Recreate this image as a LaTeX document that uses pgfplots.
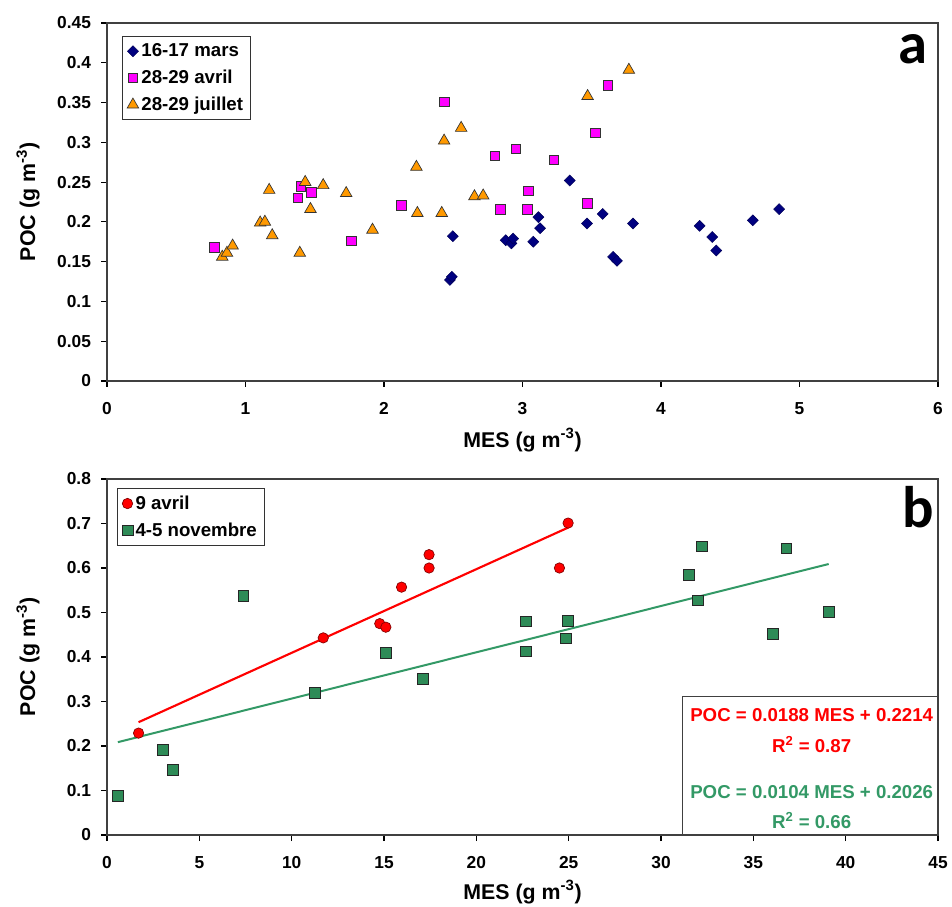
\documentclass[border=0pt]{standalone}
\usepackage{pgfplots}
\pgfplotsset{compat=1.18}
\usepackage{fontspec}
\setmainfont{Liberation Sans}
\newfontfamily\calibri{Carlito}
\definecolor{navyc}{HTML}{000080}
\definecolor{magc}{HTML}{FF00FF}
\definecolor{orgc}{HTML}{FF9900}
\definecolor{redc}{HTML}{FF0000}
\definecolor{grnc}{HTML}{2E8B57}
\definecolor{grnt}{HTML}{339966}
\pgfplotsset{
 common/.style={
  scale only axis, width=623.25pt,
  axis line style={black!75, line width=0.9pt},
  tick align=outside, xtick pos=bottom, ytick pos=left,
  major tick length=4.5pt, tick style={black, line width=0.8pt},
  tick label style={font=\fontsize{13}{15}\selectfont\bfseries},
  xticklabel style={yshift=-8pt},
  /pgf/number format/assume math mode=true,
  label style={font=\fontsize{16}{18}\selectfont\bfseries},
  every axis y label/.append style={at={(axis description cs:-0.095,0.5)}, anchor=center},
  legend style={font=\fontsize{14}{17}\selectfont\bfseries, draw=black!80, line width=0.8pt, row sep=4.5pt, inner sep=3.5pt},
  legend cell align=left,
  scaled ticks=false,
  yticklabel style={xshift=-4pt, /pgf/number format/fixed, /pgf/number format/precision=2},
  clip=false,
 }
}
\begin{document}
\begin{tikzpicture}
\useasboundingbox (0,0) rectangle (714pt,679.5pt);
% ---------------- panel a
\begin{axis}[common,
  at={(80.25pt,393.75pt)}, anchor=south west, height=268.5pt,
  xmin=0, xmax=6, ymin=0, ymax=0.45,
  xtick={0,1,2,3,4,5,6},
  ytick={0,0.05,0.1,0.15,0.2,0.25,0.3,0.35,0.4,0.45},
  xlabel={MES (g m\textsuperscript{-3})},
  ylabel={POC (g m\textsuperscript{-3})},
  xlabel style={at={(axis description cs:0.5,-0.165)}, anchor=center},
  legend style={at={(0.018,0.964)}, anchor=north west},
]
\addplot[only marks, mark=square*, mark size=2.9pt, mark options={rotate=45, fill=navyc, draw=navyc!70!black, line width=0.4pt}] table {
2.497 0.182
2.476 0.127
2.490 0.131
2.879 0.177
2.920 0.173
2.932 0.179
3.078 0.175
3.115 0.206
3.127 0.192
3.341 0.252
3.466 0.198
3.579 0.210
3.654 0.156
3.682 0.151
3.798 0.198
4.279 0.195
4.370 0.181
4.399 0.164
4.663 0.202
4.853 0.216
};
\addlegendentry{16-17 mars}
\addplot[only marks, mark=square*, mark size=3.6pt, mark options={fill=magc, draw=black!80, line width=0.5pt}] table {
0.774 0.168
1.378 0.230
1.400 0.245
1.474 0.237
1.763 0.176
2.126 0.221
2.434 0.351
2.800 0.283
2.840 0.216
2.953 0.292
3.042 0.239
3.033 0.216
3.225 0.278
3.470 0.223
3.524 0.312
3.615 0.372
};
\addlegendentry{28-29 avril}
\addplot[only marks, mark=triangle*, mark size=5pt, mark options={fill=orgc, draw=black!80, line width=0.5pt}] table {
0.832 0.156
0.866 0.161
0.907 0.170
1.106 0.199
1.140 0.200
1.171 0.240
1.193 0.183
1.392 0.161
1.431 0.250
1.469 0.216
1.561 0.246
1.727 0.236
1.917 0.190
2.234 0.269
2.241 0.211
2.417 0.211
2.434 0.302
2.557 0.318
2.653 0.232
2.716 0.233
3.470 0.358
3.768 0.391
};
\addlegendentry{28-29 juillet}
\node[anchor=base east, inner sep=0pt, font=\fontsize{44}{48}\selectfont\calibri\bfseries] at (rel axis cs:0.988,0.888) {a};
\end{axis}
% ---------------- panel b
\begin{axis}[common,
  at={(80.25pt,53.25pt)}, anchor=south west, height=267pt,
  xmin=0, xmax=45, ymin=0, ymax=0.8,
  xtick={0,5,10,15,20,25,30,35,40,45},
  ytick={0,0.1,0.2,0.3,0.4,0.5,0.6,0.7,0.8},
  xlabel={MES (g m\textsuperscript{-3})},
  ylabel={POC (g m\textsuperscript{-3})},
  xlabel style={at={(axis description cs:0.5,-0.16)}, anchor=center},
  legend style={at={(0.012,0.975)}, anchor=north west},
]
\addplot[only marks, mark=*, mark size=3.9pt, mark options={fill=redc, draw=red!50!black, line width=0.5pt}] table {
1.71 0.229
11.71 0.443
14.77 0.475
15.10 0.467
15.95 0.557
17.44 0.630
17.44 0.600
24.50 0.600
24.97 0.701
};
\addlegendentry{9 avril}
\addplot[only marks, mark=square*, mark size=4pt, mark options={fill=grnc, draw=black!85, line width=0.5pt}] table {
0.59 0.088
3.03 0.192
3.55 0.147
7.39 0.538
11.26 0.319
15.10 0.410
17.12 0.351
22.67 0.480
22.67 0.413
24.97 0.482
24.86 0.442
31.50 0.584
32.22 0.649
31.98 0.527
36.79 0.644
36.07 0.452
39.08 0.502
};
\addlegendentry{4-5 novembre}
\addplot[redc, line width=1.6pt, no marks, forget plot] coordinates {(1.71,0.2535) (24.97,0.6908)};
\addplot[grnt, line width=1.5pt, no marks, forget plot] coordinates {(0.59,0.2087) (39.08,0.6090)};
\draw[black!75, line width=0.8pt] (rel axis cs:0.693,0) rectangle (rel axis cs:1,0.39);
\node[text=redc, font=\fontsize{14}{16}\selectfont\bfseries] at (rel axis cs:0.848,0.337) {POC = 0.0188 MES + 0.2214};
\node[text=redc, font=\fontsize{14}{16}\selectfont\bfseries] at (rel axis cs:0.848,0.253) {R\textsuperscript{2} = 0.87};
\node[text=grnt, font=\fontsize{14}{16}\selectfont\bfseries] at (rel axis cs:0.848,0.121) {POC = 0.0104 MES + 0.2026};
\node[text=grnt, font=\fontsize{14}{16}\selectfont\bfseries] at (rel axis cs:0.848,0.040) {R\textsuperscript{2} = 0.66};
\node[anchor=base east, inner sep=0pt, font=\fontsize{44}{48}\selectfont\calibri\bfseries] at (rel axis cs:0.995,0.865) {b};
\end{axis}
\end{tikzpicture}
\end{document}
